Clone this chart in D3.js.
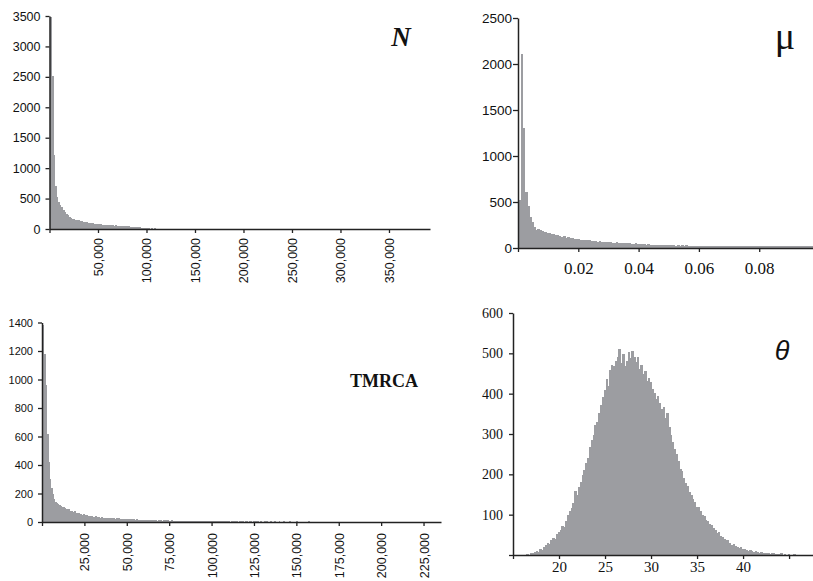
<!DOCTYPE html>
<html>
<head>
<meta charset="utf-8">
<script src="https://cdn.jsdelivr.net/npm/d3@7"></script>
<style>
  body { margin: 0; background: #fff; }
  svg { display: block; }
</style>
</head>
<body>
<div id="wrapper"></div>
<script>
// histogram counts, one value per bin

// N : bins of 1600 starting at 0
const nCounts = [
  3480, 2520, 1210, 700, 520, 440, 398, 356, 312, 280,
  250, 224, 198, 186, 170, 158, 152, 146, 140, 132,
  126, 118, 120, 110, 104, 98, 100, 92, 86, 82,
  78, 80, 74, 70, 72, 66, 64, 66, 60, 62,
  58, 56, 60, 54, 52, 55, 50, 46, 48, 42,
  44, 38, 40, 34, 36, 30, 28, 26, 22, 18,
  16, 12, 14, 10, 8, 11, 7, 9, 6, 8,
  5, 7, 4, 6, 5, 3, 6, 4, 5, 3,
  4, 3, 5, 2, 4, 3, 2, 4, 3, 2,
  3, 2, 4, 2, 3, 1, 3, 2, 2, 3,
  2, 1, 3, 2, 2, 1, 2, 3, 1, 2,
  2, 3, 1, 2, 1, 2, 2, 1, 3, 1,
  2, 1, 2, 1, 1, 2, 3, 1, 2, 1,
  1, 2, 1, 2, 1, 1, 3, 1, 2, 1,
  2, 1, 1, 2, 1, 2, 1, 1, 2, 1,
  1, 2, 1, 1, 2, 1, 1, 2, 1, 1,
  2, 1, 1, 2, 1, 1, 1, 2, 1, 1,
  1, 2, 1, 1, 1, 2, 1, 1, 1, 2,
  1, 1, 1, 2, 1, 1, 0, 1, 2, 1,
  1, 1, 0, 1, 1, 2, 1, 0, 1, 1,
  0, 1, 1, 0, 1, 2, 0, 1, 1, 0,
  1, 0, 1, 1, 0, 1, 0, 1, 0, 1,
  0, 1, 0, 0, 1, 0, 1, 0, 0, 1,
  0, 0, 1, 0, 0, 1, 0, 0, 0, 1, 0, 0, 0, 0
]

// mu : bins of 0.0007 starting at 0
const muCounts = [
  520, 2110, 1300, 612, 455, 340, 278, 232, 196, 205,
  198, 190, 176, 168, 160, 152, 150, 140, 138, 128,
  122, 126, 112, 116, 108, 104, 100, 96, 98, 92,
  88, 90, 82, 84, 78, 80, 74, 70, 72, 66,
  64, 68, 60, 62, 58, 56, 60, 54, 58, 52,
  55, 50, 52, 48, 46, 50, 44, 42, 45, 40,
  38, 40, 36, 34, 37, 32, 35, 30, 33, 31,
  29, 34, 28, 30, 27, 31, 26, 29, 25, 28,
  24, 27, 23, 26, 22, 25, 24, 21, 26, 23,
  22, 24, 20, 25, 21, 23, 19, 24, 22, 20,
  21, 18, 23, 20, 22, 19, 24, 18, 21, 20,
  19, 22, 17, 21, 20, 18, 23, 19, 17, 21,
  20, 18, 22, 17, 19, 21, 18, 20, 23, 19,
  18, 21, 17, 20, 22, 18, 19, 24, 20, 22
]

// TMRCA : bins of 800 starting at 0
const tmrcaCounts = [
  1380, 1180, 960, 620, 420, 300, 240, 195, 160, 142,
  134, 126, 118, 112, 104, 108, 96, 92, 86, 88,
  80, 76, 72, 74, 66, 62, 64, 58, 55, 52,
  54, 48, 46, 44, 42, 45, 40, 38, 36, 39,
  34, 32, 30, 33, 29, 31, 28, 27, 30, 26,
  28, 25, 27, 24, 26, 23, 25, 22, 24, 21,
  20, 23, 19, 21, 18, 20, 17, 19, 16, 18,
  15, 17, 14, 16, 15, 13, 16, 14, 12, 15,
  13, 11, 14, 12, 10, 13, 11, 12, 10, 11,
  12, 9, 11, 10, 8, 12, 9, 10, 8, 9,
  8, 10, 7, 9, 8, 6, 9, 7, 8, 6,
  7, 8, 6, 9, 5, 7, 6, 8, 5, 7,
  6, 5, 7, 6, 8, 5, 6, 4, 7, 5,
  5, 6, 4, 5, 7, 4, 5, 6, 3, 5,
  4, 5, 6, 4, 3, 5, 4, 6, 3, 4,
  5, 3, 4, 5, 2, 4, 3, 5, 4, 3,
  4, 2, 3, 5, 3, 4, 2, 3, 4, 3,
  2, 4, 3, 2, 5, 3, 2, 4, 3, 2,
  3, 2, 4, 3, 2, 3, 1, 4, 2, 3,
  2, 3, 2, 1, 3, 2, 4, 2, 1, 3,
  2, 1, 3, 2, 2, 1, 3, 2, 1, 2,
  3, 1, 2, 2, 1, 3, 1, 2, 2, 1,
  2, 1, 1, 2, 3, 1, 2, 1, 1, 2,
  1, 2, 1, 0, 2, 1, 1, 2, 0, 1,
  1, 0, 2, 1, 1, 0, 1, 2, 0, 1,
  1, 1, 0, 1, 2, 0, 1, 0, 1, 1,
  0, 1, 1, 0, 2, 0, 1, 0, 1, 0,
  1, 0, 1, 1, 0, 0, 1, 0, 2, 0,
  1, 0, 0, 1, 0, 1, 0, 0, 1, 0,
  0, 1, 0, 1
]

// theta : bins of 0.2 starting at 16.4
const thetaCounts = [
  3, 0, 5, 4, 8, 10, 7, 14, 12, 20,
  24, 30, 28, 38, 41, 40, 52, 56, 62, 72,
  70, 84, 100, 108, 116, 128, 158, 150, 168, 180,
  198, 210, 228, 240, 268, 284, 298, 322, 330, 352,
  372, 392, 408, 436, 418, 458, 470, 468, 482, 490,
  510, 476, 498, 468, 482, 504, 488, 506, 492, 478,
  490, 462, 472, 448, 456, 432, 440, 428, 412, 402,
  388, 394, 378, 362, 368, 340, 352, 318, 298, 280,
  262, 250, 232, 212, 208, 190, 178, 170, 156, 150,
  138, 132, 118, 120, 108, 100, 96, 86, 84, 76,
  74, 66, 62, 54, 56, 46, 44, 40, 36, 38,
  30, 26, 28, 22, 20, 18, 21, 15, 14, 12,
  10, 12, 9, 8, 10, 7, 6, 8, 5, 6,
  4, 5, 3, 4, 6, 2, 3, 2, 4, 1,
  2, 0, 3, 1, 0, 2
]

// tick values
const nXTicks = [0, 50000, 100000, 150000, 200000, 250000, 300000, 350000]
const nYTicks = [0, 500, 1000, 1500, 2000, 2500, 3000, 3500]
const muXTicks = [0, 0.02, 0.04, 0.06, 0.08]
const muYTicks = [0, 500, 1000, 1500, 2000, 2500]
const tmrcaXTicks = [0, 25000, 50000, 75000, 100000, 125000, 150000, 175000, 200000, 225000]
const tmrcaYTicks = [0, 200, 400, 600, 800, 1000, 1200, 1400]
const thetaXTicks = [15, 20, 25, 30, 35, 40, 45]
const thetaYTicks = [0, 100, 200, 300, 400, 500, 600]

const SANS = "'Liberation Sans', Arial, Helvetica, sans-serif"
const SERIF = "'Liberation Serif', 'Times New Roman', Times, serif"
const barColor = "#9c9da1"
const axisColor = "#222"

const svg = d3.select("#wrapper")
  .append("svg")
    .attr("width", 813)
    .attr("height", 581)

const comma = d3.format(",")

function drawPanel(p) {
  const xScale = d3.scaleLinear()
      .domain(p.xDomain)
      .range([p.left, p.right])
  const yScale = d3.scaleLinear()
      .domain(p.yDomain)
      .range([p.bottom, p.top])

  const g = svg.append("g")
  const bw = xScale(p.binWidth) - xScale(0)

  // crisp edges so neighbouring bars butt together without light seams
  g.append("g")
      .attr("shape-rendering", "crispEdges")
    .selectAll("rect")
    .data(p.counts)
    .join("rect")
      .attr("x", (d, i) => xScale(p.binStart + i * p.binWidth) + 0.5)
      .attr("y", d => yScale(d))
      .attr("width", bw + 0.6)
      .attr("height", d => p.bottom - yScale(d))
      .attr("fill", barColor)

  // x axis
  const xAxis = g.append("g")
      .attr("transform", `translate(0, ${p.bottom})`)
      .call(d3.axisBottom(xScale)
        .tickValues(p.xTicks)
        .tickSize(4)
        .tickSizeOuter(0)
        .tickFormat(p.xFormat))
  xAxis.select(".domain").attr("stroke", axisColor).attr("stroke-width", 1.5)
  xAxis.selectAll(".tick line").attr("stroke", axisColor).attr("stroke-width", 1.3)
  const xt = xAxis.selectAll("text")
      .attr("fill", "#111")
      .style("font-family", p.xFont)
      .style("font-size", p.xFontSize)
  if (p.rotate) {
    xt.attr("transform", "rotate(-90)")
      .attr("text-anchor", "end")
      .attr("x", -p.xLabelOffset)
      .attr("y", 0)
      .attr("dy", "0.36em")
  } else {
    xt.attr("y", p.xLabelOffset).attr("dy", "0.71em")
  }

  // y axis
  const yAxis = g.append("g")
      .attr("transform", `translate(${p.left}, 0)`)
      .call(d3.axisLeft(yScale)
        .tickValues(p.yTicks)
        .tickSize(p.yTickSize)
        .tickPadding(p.yTickPad)
        .tickSizeOuter(0)
        .tickFormat(p.yFormat))
  yAxis.select(".domain").attr("stroke", axisColor).attr("stroke-width", 1.5)
  yAxis.selectAll(".tick line").attr("stroke", axisColor).attr("stroke-width", 1.3)
  yAxis.selectAll("text")
      .attr("fill", "#111")
      .style("font-family", p.yFont)
      .style("font-size", p.yFontSize)

  // panel title
  g.append("text")
      .attr("x", p.title.x)
      .attr("y", p.title.y)
      .attr("text-anchor", "middle")
      .style("font-family", p.title.font)
      .style("font-size", p.title.size)
      .style("font-weight", p.title.weight)
      .style("font-style", p.title.style)
      .attr("fill", "#111")
      .text(p.title.text)
}

drawPanel({
  counts: nCounts, binStart: 0, binWidth: 1600,
  xDomain: [0, 392300], yDomain: [0, 3500],
  left: 49.5, right: 430, top: 16, bottom: 229,
  xTicks: nXTicks, yTicks: nYTicks,
  xFormat: d => d === 0 ? "" : comma(d), yFormat: d => d,
  rotate: true, xLabelOffset: 9, xFont: SANS, xFontSize: "12.5px",
  yTickSize: 4, yTickPad: 5, yFont: SANS, yFontSize: "12.5px",
  title: { text: "N", x: 401, y: 46, font: SERIF, size: "27px", weight: "bold", style: "italic" }
})

drawPanel({
  counts: muCounts, binStart: 0, binWidth: 0.0007,
  xDomain: [0, 0.09784], yDomain: [0, 2500],
  left: 518, right: 813, top: 18, bottom: 248,
  xTicks: muXTicks, yTicks: muYTicks,
  xFormat: d => d === 0 ? "" : d3.format(".2f")(d), yFormat: d => d,
  rotate: false, xLabelOffset: 14, xFont: SERIF, xFontSize: "17px",
  yTickSize: 5, yTickPad: 1, yFont: SANS, yFontSize: "13.5px",
  title: { text: "μ", x: 785, y: 49, font: SERIF, size: "38px", weight: "normal", style: "normal" }
})

drawPanel({
  counts: tmrcaCounts, binStart: 0, binWidth: 800,
  xDomain: [0, 235300], yDomain: [0, 1400],
  left: 42, right: 441, top: 322.5, bottom: 522,
  xTicks: tmrcaXTicks, yTicks: tmrcaYTicks,
  xFormat: d => d === 0 ? "" : comma(d), yFormat: d => d,
  rotate: true, xLabelOffset: 11, xFont: SANS, xFontSize: "12.5px",
  yTickSize: 4, yTickPad: 5, yFont: SANS, yFontSize: "11px",
  title: { text: "TMRCA", x: 384, y: 387, font: SERIF, size: "18px", weight: "bold", style: "normal" }
})

drawPanel({
  counts: thetaCounts, binStart: 16.4, binWidth: 0.2,
  xDomain: [15, 47.6], yDomain: [0, 600],
  left: 513, right: 813, top: 313, bottom: 555,
  xTicks: thetaXTicks, yTicks: thetaYTicks,
  xFormat: d => (d === 15 || d === 45) ? "" : d, yFormat: d => d === 0 ? "" : d,
  rotate: false, xLabelOffset: 6, xFont: SERIF, xFontSize: "15px",
  yTickSize: 4, yTickPad: 6, yFont: SERIF, yFontSize: "14px",
  title: { text: "θ", x: 782, y: 360, font: SANS, size: "27px", weight: "normal", style: "italic" }
})
</script>
</body>
</html>
